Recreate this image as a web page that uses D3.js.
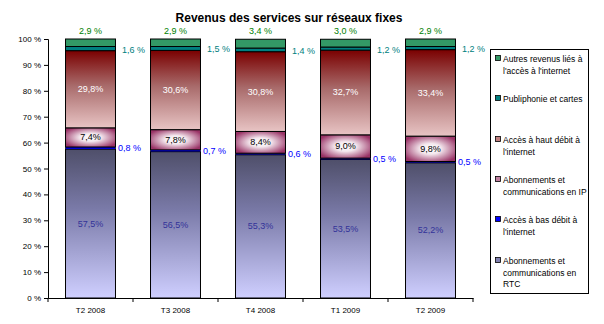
<!DOCTYPE html>
<html><head><meta charset="utf-8">
<script src="https://cdn.jsdelivr.net/npm/d3@7"></script>
<style>body{margin:0;background:#fff}svg{display:block;font-family:"Liberation Sans",Arial,sans-serif}</style>
</head><body><svg id="c" width="604" height="324"></svg>
<script>
const categories = ["T2 2008","T3 2008","T4 2008","T1 2009","T2 2009"];
const rtc = [57.5,56.5,55.3,53.5,52.2];
const basDebit = [0.8,0.7,0.6,0.5,0.5];
const ip = [7.4,7.8,8.4,9.0,9.8];
const hautDebit = [29.8,30.6,30.8,32.7,33.4];
const publiphonie = [1.6,1.5,1.4,1.2,1.2];
const autres = [2.9,2.9,3.4,3.0,2.9];
const yTicks = [0,10,20,30,40,50,60,70,80,90,100];
const seriesNames = ["Abonnements et communications en RTC","Accès à bas débit à l'internet","Abonnements et communications en IP","Accès à haut débit à l'internet","Publiphonie et cartes","Autres revenus liés à l'accès à l'internet"];
const legendLines = [
  ["Autres revenus liés à","l'accès à l'internet"],
  ["Publiphonie et cartes"],
  ["Accès à haut débit à","l'internet"],
  ["Abonnements et","communications en IP"],
  ["Accès à bas débit à","l'internet"],
  ["Abonnements et","communications en","RTC"]
];
const series = [rtc,basDebit,ip,hautDebit,publiphonie,autres];

const svg = d3.select("#c");
const defs = svg.append("defs");
function lg(id, stops){
  const g = defs.append("linearGradient").attr("id",id).attr("x1",0).attr("y1",0).attr("x2",0).attr("y2",1);
  stops.forEach(s=>g.append("stop").attr("offset",s[0]).attr("stop-color",s[1]));
}
lg("gRTC",[[0,"#4f4f6a"],[0.4,"#7a7aa8"],[1,"#cfcfff"]]);
lg("gHD",[[0,"#7a0000"],[0.45,"#a86a6a"],[1,"#e8c4c4"]]);
const rg = defs.append("radialGradient").attr("id","gIP").attr("cx","50%").attr("cy","50%").attr("r","60%");
rg.append("stop").attr("offset",0).attr("stop-color","#ffffff");
rg.append("stop").attr("offset",0.35).attr("stop-color","#f4e8ee");
rg.append("stop").attr("offset",1).attr("stop-color","#993366");
const fills = ["url(#gRTC)","#0000ff","url(#gIP)","url(#gHD)","#008080","#339966"];
const legendFills = ["#339966","#008080","#c08080","#c080a0","#0000ff","#8080b0"];

const x = d3.scaleBand().domain(categories).range([48,473]).paddingInner(0.412).paddingOuter(0.206);
const y = d3.scaleLinear().domain([0,100]).range([298,39]);

// stack
const rows = categories.map((c,i)=>{const o={cat:c}; series.forEach((s,j)=>o["s"+j]=s[i]); return o;});
const stack = d3.stack().keys(series.map((s,j)=>"s"+j))(rows);

const g = svg.append("g");
stack.forEach((layer,j)=>{
  g.selectAll(null).data(layer).enter().append("rect")
   .attr("x",d=>x(d.data.cat)).attr("width",x.bandwidth())
   .attr("y",d=>y(d[1])).attr("height",d=>y(d[0])-y(d[1]))
   .attr("fill",fills[j]).attr("stroke","#000").attr("stroke-width",j==1?0.5:1);
});

// axes
const ya = svg.append("g").attr("transform","translate(48,0)").call(d3.axisLeft(y).tickValues(yTicks).tickSize(4).tickFormat(d=>d+" %"));
ya.select(".domain").attr("stroke","#000");
ya.selectAll("text").attr("font-size",8).attr("fill","#000").attr("x",-7);
const xa = svg.append("g").attr("transform","translate(0,298)").call(d3.axisBottom(x).tickSize(0).tickPadding(9));
xa.select(".domain").attr("stroke","#000");
xa.selectAll("text").attr("font-size",8).attr("fill","#000");
const step = x.step();
xa.selectAll(".bt").data(d3.range(categories.length+1)).enter().append("line")
  .attr("x1",k=>x.range()[0]+k*step).attr("x2",k=>x.range()[0]+k*step).attr("y1",0).attr("y2",4).attr("stroke","#000");

const fmt = v=>d3.format(".1f")(v).replace(".",",");
const lbl = svg.append("g").attr("font-size",9);
// autres (above)
lbl.selectAll(null).data(stack[5]).enter().append("text")
  .attr("x",d=>x(d.data.cat)+x.bandwidth()/2).attr("y",d=>y(d[1])-5).attr("text-anchor","middle")
  .attr("fill","#008000").text(d=>fmt(d.data.s5)+" %");
// publiphonie (right)
lbl.selectAll(null).data(stack[4]).enter().append("text")
  .attr("x",d=>x(d.data.cat)+x.bandwidth()+18).attr("y",d=>y((d[0]+d[1])/2)+4).attr("text-anchor","middle")
  .attr("fill","#008080").text(d=>fmt(d.data.s4)+" %");
// haut debit
lbl.selectAll(null).data(stack[3]).enter().append("text")
  .attr("x",d=>x(d.data.cat)+x.bandwidth()/2).attr("y",d=>y((d[0]+d[1])/2)+3).attr("text-anchor","middle")
  .attr("fill","#fff").text(d=>fmt(d.data.s3)+"%");
// ip
lbl.selectAll(null).data(stack[2]).enter().append("text")
  .attr("x",d=>x(d.data.cat)+x.bandwidth()/2).attr("y",d=>y((d[0]+d[1])/2)+3).attr("text-anchor","middle")
  .attr("fill","#000").text(d=>fmt(d.data.s2)+"%");
// bas debit
lbl.selectAll(null).data(stack[1]).enter().append("text")
  .attr("x",d=>x(d.data.cat)+x.bandwidth()+14).attr("y",d=>y((d[0]+d[1])/2)+3).attr("text-anchor","middle")
  .attr("fill","#0000ff").text(d=>fmt(d.data.s1)+" %");
// rtc
lbl.selectAll(null).data(stack[0]).enter().append("text")
  .attr("x",d=>x(d.data.cat)+x.bandwidth()/2).attr("y",d=>y((d[0]+d[1])/2)+3).attr("text-anchor","middle")
  .attr("fill","#333399").text(d=>fmt(d.data.s0)+"%");

// title
svg.append("text").attr("x",289).attr("y",22).attr("text-anchor","middle").attr("font-size",12).attr("font-weight","bold")
  .text("Revenus des services sur réseaux fixes");

// legend
const lgG = svg.append("g");
lgG.append("rect").attr("x",490.5).attr("y",49.5).attr("width",98).attr("height",244).attr("fill","#fff").attr("stroke","#000");
const legY = [59,99,140,180,220,261];
legendLines.forEach((lines,i)=>{
  lgG.append("rect").attr("x",495.5).attr("y",legY[i]-3.5).attr("width",5).attr("height",5).attr("fill",legendFills[i]).attr("stroke","#000").attr("stroke-width",0.8);
  lines.forEach((t,k)=>lgG.append("text").attr("x",503).attr("y",legY[i]+3+k*11.5).attr("font-size",8.5).text(t));
});
</script></body></html>
